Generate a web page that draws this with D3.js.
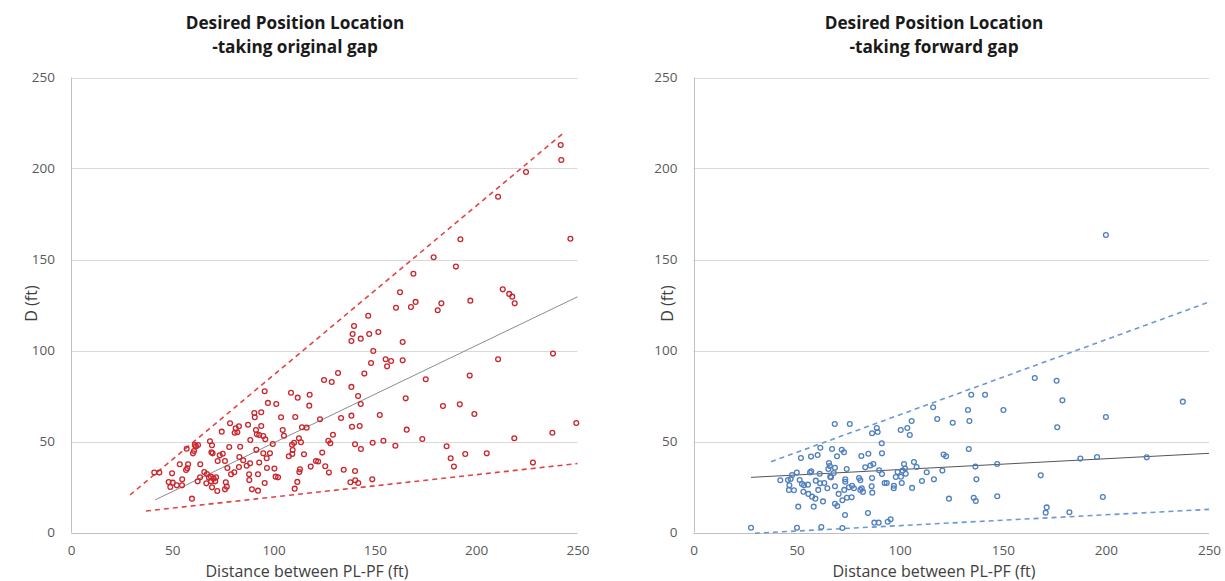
<!DOCTYPE html>
<html><head><meta charset="utf-8">
<script src="https://cdn.jsdelivr.net/npm/d3@7"></script>
<style>
body{margin:0;background:#fff}
svg text{font-family:"Open Sans",sans-serif}
</style>
</head><body>
<svg id="chart" width="1225" height="581"></svg>
<script>
// ---- tick labels ----
const xTicks = [0, 50, 100, 150, 200, 250];
const yTicks = [0, 50, 100, 150, 200, 250];

// ---- left panel: original gap ----
const origX = [41.1,43.6,49.9,48.2,50.2,49.0,52.2,54.8,54.9,53.7,57.1,57.8,56.8,57.4,61.1,61.7,62.7,60.2,60.7,59.7,63.8,62.5,63.7,68.6,69.6,69.3,69.9,65.8,67.1,68.1,69.1,70.4,71.6,69.1,71.2,66.8,69.6,72.2,73.4,72.4,
169.0,162.4,160.4,167.8,170.1,146.7,139.7,139.0,138.4,143.0,147.2,151.7,163.7,149.2,148.1,155.3,158.0,156.0,163.7,144.8,131.8,128.7,124.9,138.4,141.7,143.0,108.6,111.9,117.8,117.6,95.6,97.2,101.3,90.5,93.9,90.7,103.7,110.7,122.9,133.3,138.4,152.4,165.2,78.5,74.4,81.3,82.9,82.1,80.8,87.4,93.9,91.3,91.7,104.5,105.1,114.0,116.3,138.7,142.5,92.9,94.9,95.9,88.5,112.5,110.1,113.5,109.1,127.0,128.0,129.3,99.6,140.2,143.1,148.9,154.2,160.1,165.7,78.1,83.5,91.5,94.9,98.2,96.6,109.4,109.2,107.5,115.0,124.0,120.9,122.0,74.9,76.0,83.1,85.0,88.4,92.9,86.7,77.2,82.9,96.7,100.4,113.0,112.7,118.3,125.5,127.3,134.6,140.2,80.6,79.0,87.9,92.3,88.0,101.0,102.2,95.6,111.7,76.4,76.9,76.0,89.3,92.3,110.4,137.9,140.3,141.8,148.7,
241.7,242.0,224.6,210.8,192.2,246.5,179.0,190.0,213.1,216.3,217.8,219.0,181.0,182.8,197.1,210.8,237.9,175.1,196.8,183.6,191.9,199.1,173.4,185.4,187.4,189.0,194.6,205.2,218.8,237.6,249.4,228.0];
const origY = [32.9,32.9,32.5,27.7,27.4,25.0,25.9,25.9,29.2,37.5,46.0,37.5,34.3,35.3,48.1,47.3,48.1,43.5,44.8,18.6,37.5,28.1,30.3,50.1,47.9,44.1,43.5,33.2,32.1,30.1,30.7,29.6,30.3,28.1,28.1,27.0,24.8,22.8,42.4,39.3,
142.2,132.0,123.5,123.9,126.7,119.1,113.5,109.1,105.2,106.5,109.1,110.2,104.7,99.7,93.1,95.2,94.2,91.3,94.6,87.3,87.6,82.7,83.8,80.0,75.0,70.6,76.8,74.1,75.7,69.7,77.6,71.2,70.6,65.7,66.1,63.3,63.3,63.5,62.2,62.9,64.2,64.6,73.7,60.0,55.4,57.3,58.4,55.1,54.8,59.2,58.5,56.3,54.0,56.3,53.2,57.8,57.6,58.1,58.5,53.6,53.0,51.2,50.8,51.8,49.3,49.6,48.2,50.4,49.0,53.7,48.6,48.5,45.9,49.3,50.4,47.7,56.5,47.0,47.1,45.4,43.5,43.5,40.8,45.3,43.1,41.9,43.0,43.9,39.3,39.0,43.3,39.3,41.5,39.7,38.0,38.4,36.7,35.4,36.0,35.4,35.1,34.7,33.2,36.2,36.4,32.9,34.5,33.8,33.1,32.0,32.0,32.0,28.8,30.7,30.3,27.2,27.8,27.6,25.2,23.7,23.7,23.0,24.1,27.6,28.7,27.2,29.2,
212.9,204.7,198.1,184.5,161.1,161.4,151.2,146.1,133.6,131.1,129.6,125.9,122.1,125.9,127.4,95.2,98.3,84.2,86.2,69.5,70.4,65.1,51.4,47.4,40.8,36.2,43.1,43.5,51.8,54.8,60.2,38.4];
// fit and envelope lines (endpoints [x, y])
const origTrend = [[41.5, 17.9], [250, 129.5]];
const origUpper = [[29.1, 20.6], [243, 219.4]];
const origLower = [[37.0, 11.8], [250, 37.9]];

// ---- right panel: forward gap ----
const fwdX = [27.9,50.2,62.0,72.2,68.5,75.8,86.6,89.3,88.9,91.3,61.5,67.2,71.9,73.0,60.2,57.0,52.1,69.6,81.4,84.8,91.4,65.7,66.1,68.6,65.4,87.2,85.8,83.3,74.3,90.0,91.4,50.1,57.1,56.5,47.8,61.2,68.0,66.3,42.1,45.8,47.1,51.5,52.6,53.6,55.5,59.3,61.4,63.4,66.7,73.6,73.6,80.3,80.9,86.6,92.7,46.5,46.3,48.7,53.3,55.7,57.5,59.1,60.5,64.9,68.6,73.1,75.4,76.9,77.8,80.9,81.6,82.2,70.4,86.4,86.7,74.4,76.7,72.2,68.6,69.7,62.8,50.8,58.3,73.5,84.6,87.7,89.8,
165.5,134.7,141.4,116.2,133.1,150.3,118.2,105.8,125.7,133.8,100.5,103.7,104.9,133.5,121.3,122.5,106.9,102.1,108.2,102.6,101.4,99.0,102.9,100.6,98.1,113.1,120.7,136.7,147.3,93.7,101.0,97.2,97.1,106.0,110.8,116.6,137.2,168.4,123.9,135.9,136.9,147.3,171.3,170.8,95.6,94.2,
200.0,176.1,178.9,237.3,176.4,200.0,187.6,195.7,219.8,198.5,182.3];
const fwdY = [2.6,2.6,3.0,2.5,59.6,59.6,54.5,55.2,57.4,49.0,46.6,45.9,45.5,44.1,42.6,41.7,40.9,41.9,42.0,43.3,43.5,38.2,36.5,35.6,34.9,37.6,36.8,35.8,34.9,34.2,32.1,32.9,33.6,33.0,31.6,32.3,32.7,30.7,28.7,28.8,29.4,28.8,26.7,25.9,26.3,28.5,27.0,27.2,30.3,29.2,27.9,29.9,28.7,29.9,27.2,25.9,23.4,23.2,22.4,21.2,19.7,18.6,23.4,24.3,25.4,23.4,24.8,25.7,24.3,23.4,24.3,22.3,21.2,25.4,21.9,19.1,19.3,17.7,15.8,14.6,17.1,14.2,14.2,9.6,10.7,5.4,5.4,
84.9,75.7,75.7,68.8,67.3,67.3,62.4,61.3,60.3,61.3,56.3,57.4,53.6,45.9,42.8,41.9,38.7,37.6,36.0,35.1,34.0,33.2,32.3,30.7,30.5,33.1,34.0,36.2,37.6,27.2,27.2,25.7,24.3,24.5,28.3,29.2,29.2,31.4,18.6,19.1,17.3,19.9,13.8,10.9,7.3,5.9,
163.5,83.4,72.6,71.9,57.8,63.5,40.6,41.5,41.3,19.5,11.1];
const fwdTrend = [[27.9, 30.3], [250, 43.5]];
const fwdUpper = [[37.6, 38.9], [250, 126.6]];
const fwdLower = [[29.8, -0.4], [250, 12.7]];

const titles = [["Desired Position Location", "-taking original gap"],
                ["Desired Position Location", "-taking forward gap"]];
const xTitle = "Distance between PL-PF (ft)";
const yTitle = "D (ft)";

const svg = d3.select("#chart");

const panels = [
  {x0: 71, x1: 577.5, titleX: 295, yTitleX: 31, xTitleX: 307,
   xs: origX, ys: origY, trend: origTrend, upper: origUpper, lower: origLower,
   dot: "#c9252c", dash: "#e04545", trendColor: "#8c8c8c", title: titles[0]},
  {x0: 693.5, x1: 1209, titleX: 934, yTitleX: 667, xTitleX: 934,
   xs: fwdX, ys: fwdY, trend: fwdTrend, upper: fwdUpper, lower: fwdLower,
   dot: "#4f7fbf", dash: "#6e98d2", trendColor: "#555555", title: titles[1]}
];

const yTop = 77.5, yBot = 532.5;
const FONT = "'Open Sans', sans-serif";

panels.forEach(p => {
  const x = d3.scaleLinear().domain([0, 250]).range([p.x0, p.x1]);
  const y = d3.scaleLinear().domain([0, 250]).range([yBot, yTop]);
  const g = svg.append("g");

  // gridlines
  g.append("g").selectAll("line").data(yTicks.filter(t => t > 0)).join("line")
    .attr("x1", p.x0).attr("x2", p.x1)
    .attr("y1", d => Math.round(y(d)) + 0.5).attr("y2", d => Math.round(y(d)) + 0.5)
    .attr("stroke", "#d9d9d9").attr("stroke-width", 1);

  // axes lines
  g.append("line").attr("x1", Math.round(p.x0) + 0.5).attr("x2", Math.round(p.x0) + 0.5)
    .attr("y1", yTop).attr("y2", yBot).attr("stroke", "#bfbfbf");
  g.append("line").attr("x1", p.x0).attr("x2", p.x1)
    .attr("y1", Math.round(yBot) + 0.5).attr("y2", Math.round(yBot) + 0.5).attr("stroke", "#bfbfbf");

  // tick labels
  const ax = g.append("g").attr("transform", `translate(0,${yBot})`)
    .call(d3.axisBottom(x).tickValues(xTicks).tickSize(0).tickPadding(13).tickFormat(d3.format("d")));
  const ay = g.append("g").attr("transform", `translate(${p.x0},0)`)
    .call(d3.axisLeft(y).tickValues(yTicks).tickSize(0).tickPadding(16).tickFormat(d3.format("d")));
  [ax, ay].forEach(a => {
    a.select(".domain").remove();
    a.selectAll("text").attr("fill", "#595959").style("font-size", "13.5px")
      .style("font-family", FONT);
  });

  const line = d3.line().x(d => x(d[0])).y(d => y(d[1]));

  // envelope dashed lines
  [p.upper, p.lower].forEach(l => {
    g.append("path").attr("d", line(l)).attr("fill", "none")
      .attr("stroke", p.dash).attr("stroke-width", 1.6).attr("stroke-dasharray", "5,4");
  });
  // trend
  g.append("path").attr("d", line(p.trend)).attr("fill", "none")
    .attr("stroke", p.trendColor).attr("stroke-width", 1);

  // points
  g.append("g").selectAll("circle").data(p.xs.map((v, i) => [v, p.ys[i]])).join("circle")
    .attr("cx", d => x(d[0])).attr("cy", d => y(d[1])).attr("r", 2.4)
    .attr("fill", "none").attr("stroke", p.dot).attr("stroke-width", 1.3);

  // titles
  g.append("text").attr("x", p.titleX).attr("y", 29).attr("text-anchor", "middle")
    .style("font-weight", "bold").style("font-size", "17.2px").attr("fill", "#1a1a1a").text(p.title[0]);
  g.append("text").attr("x", p.titleX).attr("y", 53).attr("text-anchor", "middle")
    .style("font-weight", "bold").style("font-size", "17.2px").attr("fill", "#1a1a1a").text(p.title[1]);

  // axis titles
  g.append("text").attr("x", p.xTitleX).attr("y", 577).attr("text-anchor", "middle")
    .style("font-size", "16px").attr("fill", "#404040").text(xTitle);
  g.append("text").attr("transform", `translate(${p.yTitleX},303.5) rotate(-90)`)
    .attr("text-anchor", "middle").attr("dy", "0.35em")
    .style("font-size", "16px").attr("fill", "#404040").text(yTitle);
});
</script>
</body></html>
